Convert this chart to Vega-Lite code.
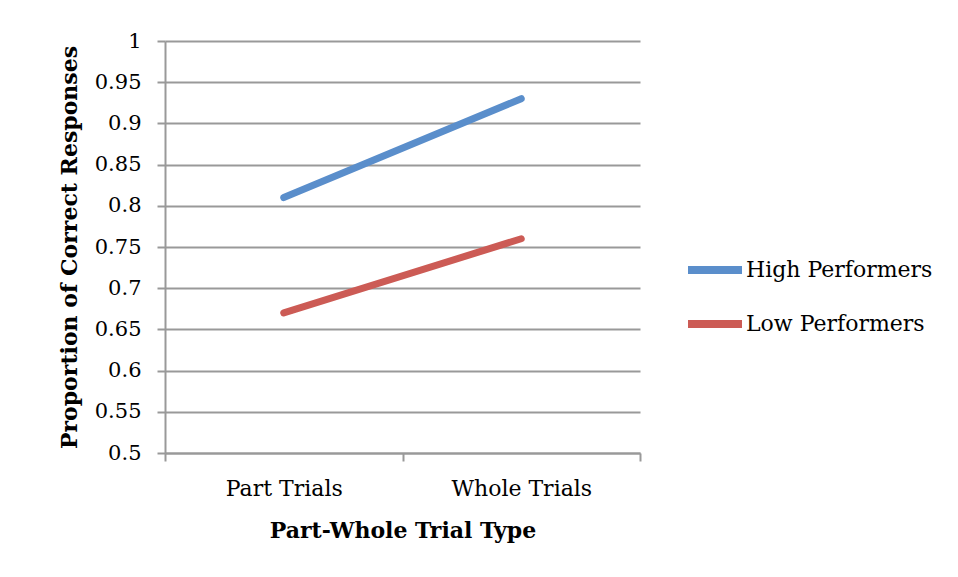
{
  "$schema": "https://vega.github.io/schema/vega-lite/v6.json",
  "width": 475,
  "height": 412,
  "autosize": {"type": "none"},
  "padding": {"left": 165, "top": 41, "right": 318, "bottom": 124},
  "background": "white",
  "config": {
    "font": "DejaVu Serif",
    "view": {"stroke": null}
  },
  "data": {
    "values": [
      {"type": "Part Trials", "group": "High Performers", "value": 0.81},
      {"type": "Whole Trials", "group": "High Performers", "value": 0.93},
      {"type": "Part Trials", "group": "Low Performers", "value": 0.67},
      {"type": "Whole Trials", "group": "Low Performers", "value": 0.76}
    ]
  },
  "mark": {"type": "line", "strokeWidth": 7, "strokeCap": "round"},
  "encoding": {
    "x": {
      "field": "type",
      "type": "ordinal",
      "scale": {"type": "band", "paddingInner": 0, "paddingOuter": 0},
      "axis": {
        "title": "Part-Whole Trial Type",
        "titleFont": "DejaVu Serif",
        "titleFontSize": 22,
        "titleFontWeight": "bold",
        "titleColor": "black",
        "titlePadding": 21,
        "labelFont": "DejaVu Serif",
        "labelFontSize": 22,
        "labelColor": "black",
        "labelAngle": 0,
        "labelPadding": 17,
        "tickBand": "extent",
        "tickSize": 8,
        "tickWidth": 2,
        "tickColor": "#999999",
        "domainColor": "#999999",
        "domainWidth": 2,
        "grid": false
      }
    },
    "y": {
      "field": "value",
      "type": "quantitative",
      "scale": {"domain": [0.5, 1], "nice": false, "zero": false},
      "axis": {
        "title": "Proportion of Correct Responses",
        "titleFont": "DejaVu Serif",
        "titleFontSize": 22,
        "titleFontWeight": "bold",
        "titleColor": "black",
        "titlePadding": 13,
        "values": [0.5, 0.55, 0.6, 0.65, 0.7, 0.75, 0.8, 0.85, 0.9, 0.95, 1],
        "labelExpr": "datum.value == 1 ? '1' : datum.value == 0.5 ? '0.5' : format(datum.value, '.2~f')",
        "labelFont": "DejaVu Serif",
        "labelFontSize": 21,
        "labelColor": "black",
        "labelPadding": 16,
        "tickSize": 8,
        "tickWidth": 2,
        "tickColor": "#999999",
        "domainColor": "#999999",
        "domainWidth": 2,
        "grid": true,
        "gridColor": "#999999",
        "gridWidth": 2
      }
    },
    "color": {
      "field": "group",
      "type": "nominal",
      "scale": {"domain": ["High Performers", "Low Performers"], "range": ["#5a8ecb", "#cc5b55"]},
      "legend": {
        "title": null,
        "orient": "none",
        "legendX": 519,
        "legendY": 198,
        "symbolType": "stroke",
        "symbolSize": 2916,
        "symbolStrokeWidth": 8,
        "labelFont": "DejaVu Serif",
        "labelFontSize": 22,
        "labelColor": "black",
        "labelOffset": 0,
        "labelLimit": 300,
        "rowPadding": 7,
        "symbolOffset": 0
      }
    }
  }
}
